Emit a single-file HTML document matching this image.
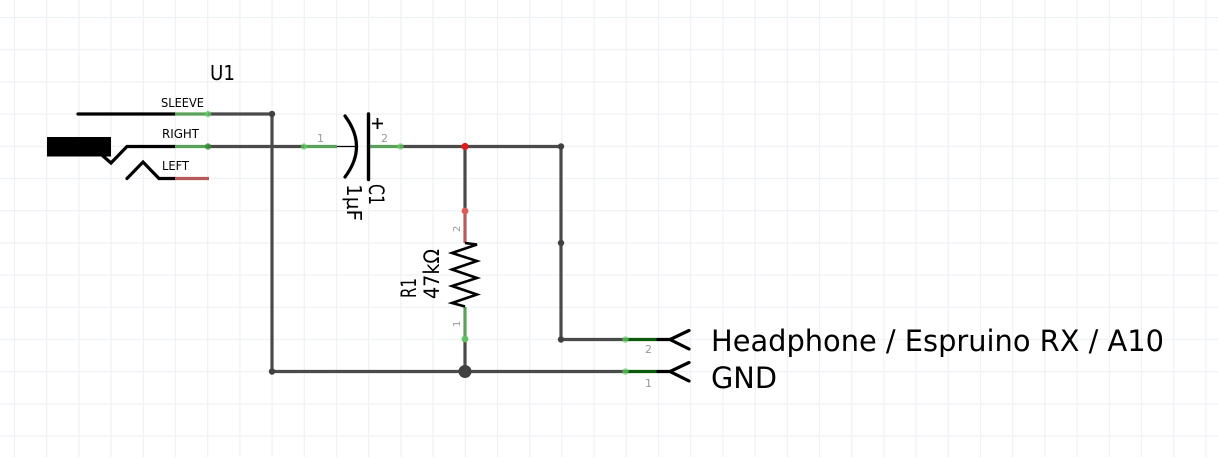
<!DOCTYPE html>
<html><head><meta charset="utf-8"><style>
html,body{margin:0;padding:0;background:#fff;width:1218px;height:457px;overflow:hidden}
svg{display:block}
text{font-family:"DejaVu Sans","Liberation Sans",sans-serif;fill:#000}
.w{stroke:#4a4a4a;stroke-width:3.2;fill:none}
.g{stroke:#5aa25a;stroke-width:3.2;fill:none}
.r{stroke:#b95a5a;stroke-width:3.2;fill:none}
.d{stroke:#0a5a0a;stroke-width:3.2;fill:none}
.k{stroke:#000;stroke-width:3.2;fill:none;stroke-linecap:round;stroke-linejoin:miter}
.n{fill:#999}
.s{font-size:12px}
</style></head><body>
<svg xmlns="http://www.w3.org/2000/svg" width="1218" height="457" viewBox="0 0 1218 457">
<rect width="1218" height="457" fill="#fff"/>
<g stroke="#eef1f6" stroke-width="1.2">
<path d="M14.5 0V457M46.7 0V457M78.9 0V457M111.1 0V457M143.3 0V457M175.5 0V457M207.7 0V457M239.9 0V457M272.1 0V457M304.3 0V457M336.5 0V457M368.7 0V457M400.9 0V457M433.1 0V457M465.3 0V457M497.5 0V457M529.7 0V457M561.9 0V457M594.1 0V457M626.3 0V457M658.5 0V457M690.7 0V457M722.9 0V457M755.1 0V457M787.3 0V457M819.5 0V457M851.7 0V457M883.9 0V457M916.1 0V457M948.3 0V457M980.5 0V457M1012.7 0V457M1044.9 0V457M1077.1 0V457M1109.3 0V457M1141.5 0V457M1173.7 0V457M1205.9 0V457"/>
<path d="M0 17.5H1218M0 49.7H1218M0 81.9H1218M0 114.1H1218M0 146.3H1218M0 178.5H1218M0 210.7H1218M0 242.9H1218M0 275.1H1218M0 307.3H1218M0 339.5H1218M0 371.7H1218M0 403.9H1218M0 436.1H1218"/>
</g>

<!-- wires -->
<path class="w" d="M208 114H272V371.5M208 146.5H304M400 146.5H561V339.5H625M465 146.5V211M465 339V371.5M272 371.5H625"/>

<!-- jack -->
<rect x="47" y="137" width="64" height="19.5" fill="#000"/>
<path class="k" d="M78 114H175"/>
<path class="k" d="M103 156L111 163L127 146.5H175"/>
<path class="k" d="M127 178.5L143 162L159 178.5H175"/>
<path class="g" d="M175 114H208M175 146.5H208"/>
<path class="r" d="M175 178.5H209"/>
<circle cx="208" cy="114" r="3.2" fill="#5fd05f" opacity=".7"/>
<circle cx="208" cy="146.5" r="3.2" fill="#2f8f2f" opacity=".8"/>
<text x="161" y="107" class="s" textLength="43" lengthAdjust="spacingAndGlyphs">SLEEVE</text>
<text x="162" y="138" class="s" textLength="37" lengthAdjust="spacingAndGlyphs">RIGHT</text>
<text x="162" y="170" class="s" textLength="27" lengthAdjust="spacingAndGlyphs">LEFT</text>
<text x="210" y="80" font-size="20" textLength="25" lengthAdjust="spacingAndGlyphs">U1</text>

<!-- capacitor -->
<path class="g" d="M304 146.5H337M368 146.5H400"/>
<path d="M337 146.5H356" stroke="#000" stroke-width="1.2"/>
<path class="k" d="M345 116Q368 146.5 345 177"/>
<path d="M368.5 114V179.5" stroke="#000" stroke-width="3.4" stroke-linecap="round"/>
<path d="M372 123.5H383M377.5 118V129" stroke="#000" stroke-width="1.8"/>
<circle cx="304" cy="146.5" r="3.2" fill="#5fd05f" opacity=".7"/>
<circle cx="400.5" cy="146.5" r="3.2" fill="#5fd05f" opacity=".7"/>
<text x="317" y="142" class="n" style="font-size:11px">1</text>
<text x="381" y="142" class="n" style="font-size:11px">2</text>
<text transform="translate(369,184) rotate(90)" font-size="21" textLength="21" lengthAdjust="spacingAndGlyphs">C1</text>
<text transform="translate(347,184) rotate(90)" font-size="20" textLength="37" lengthAdjust="spacingAndGlyphs">1µF</text>

<!-- resistor -->
<path class="r" d="M465 211V243"/>
<path class="g" d="M465 307V339"/>
<path d="M465 243L477 244.5L452 253L477 261L452 269.5L477 278L452 286L477 294.5L452 303L465 306.5" stroke="#000" stroke-width="2.6" fill="none"/>
<circle cx="465" cy="211" r="3.4" fill="#e05a5a"/>
<circle cx="465" cy="339" r="3.4" fill="#5fc05f"/>
<text transform="translate(460,232) rotate(-90)" class="n" style="font-size:10px">2</text>
<text transform="translate(460,327) rotate(-90)" class="n" style="font-size:10px">1</text>
<text transform="translate(416,298) rotate(-90)" font-size="21" textLength="20" lengthAdjust="spacingAndGlyphs">R1</text>
<text transform="translate(439,299) rotate(-90)" font-size="21" textLength="50" lengthAdjust="spacingAndGlyphs">47kΩ</text>

<!-- connectors -->
<path class="d" d="M625 339.5H658M625 371.5H658"/>
<path class="k" d="M658 339.5H670M658 371.5H670"/>
<path class="k" d="M689 330.5L670 339.5L689 349M689 362.5L670 371.5L689 381"/>
<circle cx="625.5" cy="339.5" r="3.2" fill="#5fd05f" opacity=".7"/>
<circle cx="625.5" cy="371.5" r="3.2" fill="#5fd05f" opacity=".7"/>
<text x="645" y="353" class="n" style="font-size:11px">2</text>
<text x="645" y="387" class="n" style="font-size:11px">1</text>
<text x="711" y="351" font-size="29" textLength="453" lengthAdjust="spacingAndGlyphs">Headphone / Espruino RX / A10</text>
<text x="711" y="388" font-size="29" textLength="66" lengthAdjust="spacingAndGlyphs">GND</text>

<!-- junctions -->
<circle cx="272" cy="114" r="3.2" fill="#404040"/>
<circle cx="465" cy="146.5" r="3.6" fill="#e01c1c"/>
<circle cx="561" cy="146.5" r="3.2" fill="#404040"/>
<circle cx="561" cy="243" r="3.2" fill="#404040"/>
<circle cx="561" cy="339.5" r="3.2" fill="#404040"/>
<circle cx="272" cy="371.5" r="3.2" fill="#404040"/>
<circle cx="465" cy="371.5" r="6.5" fill="#404040"/>
</svg>
</body></html>
